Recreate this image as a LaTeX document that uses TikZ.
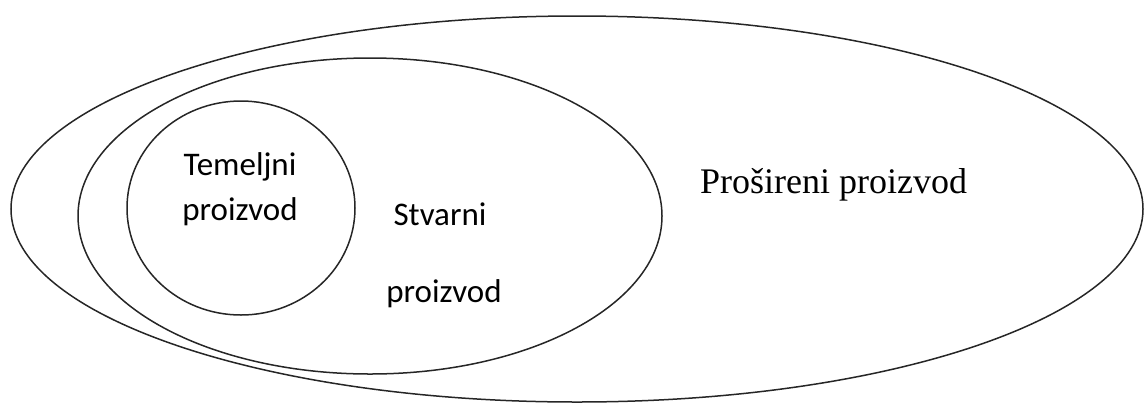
\documentclass[tikz,border=0pt]{standalone}
\usepackage{fontspec}
\setmainfont{Liberation Serif}
\newfontfamily\calib{Carlito}
\begin{document}
\begin{tikzpicture}[x=1pt,y=-1pt,
  ring/.style={draw=black!85,line width=1.5pt},
  lblsans/.style={font=\calib\fontsize{33}{40}\selectfont,anchor=base,inner sep=0pt},
  lblserif/.style={font=\fontsize{36}{42}\selectfont,anchor=base west,inner sep=0pt}]
\useasboundingbox (0,0) rectangle (1145,405);
\draw[ring] (577,209) ellipse [x radius=566,y radius=193];
\draw[ring] (370,216) ellipse [x radius=292,y radius=158];
\draw[ring] (241,208) ellipse [x radius=114,y radius=107];
\node[lblsans] (t1) at (240,175) {Temeljni};
\node[lblsans] (t2) at (240,220) {proizvod};
\node[lblsans] (s1) at (440,225) {Stvarni};
\node[lblsans] (s2) at (444,302) {proizvod};
\node[lblserif] (p) at (700,193) {Prošireni proizvod};
\end{tikzpicture}
\end{document}
